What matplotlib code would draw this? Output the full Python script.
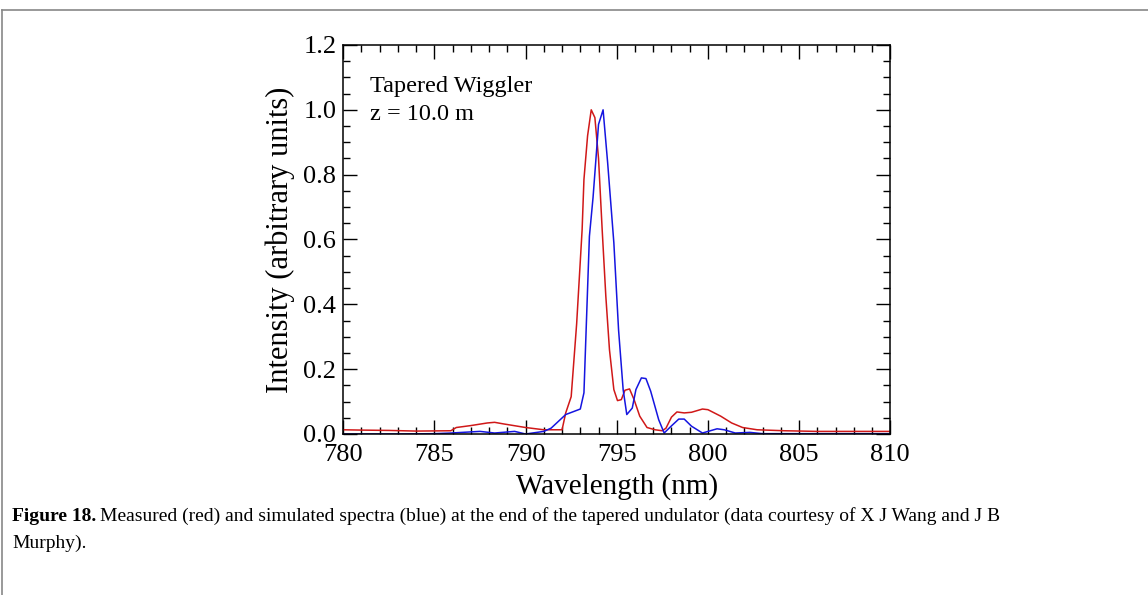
import matplotlib
matplotlib.use("Agg")
import matplotlib.pyplot as plt
from matplotlib.lines import Line2D
from matplotlib.ticker import MultipleLocator

# measured spectrum (red)
wl_meas = [780.0, 781.0, 782.5, 784.0, 785.9, 786.2, 787.0, 787.9, 788.3, 788.8, 790.0,
           791.0, 792.0, 792.2, 792.5, 792.8, 793.1, 793.2, 793.4, 793.6, 793.8, 794.0,
           794.2, 794.4, 794.6, 794.84, 795.04, 795.25, 795.45, 795.7, 795.95, 796.26,
           796.66, 797.1, 797.5, 797.7, 798.0, 798.3, 798.7, 799.1, 799.7, 800.0, 800.7,
           801.3, 801.9, 802.7, 804.2, 806.0, 808.0, 810.0]
int_meas = [0.013, 0.012, 0.011, 0.009, 0.010, 0.020, 0.026, 0.034, 0.036, 0.031, 0.020,
            0.013, 0.013, 0.065, 0.115, 0.34, 0.63, 0.785, 0.92, 1.0, 0.976, 0.85,
            0.63, 0.425, 0.26, 0.137, 0.103, 0.106, 0.135, 0.139, 0.106, 0.055,
            0.020, 0.013, 0.010, 0.018, 0.052, 0.068, 0.065, 0.067, 0.077, 0.075, 0.055,
            0.034, 0.020, 0.013, 0.010, 0.008, 0.008, 0.008]

# simulated spectrum (blue)
wl_sim = [780.0, 783.0, 785.0, 785.9, 787.5, 788.3, 789.4, 790.0, 791.0, 791.4, 792.2,
          793.0, 793.2, 793.5, 793.7, 794.0, 794.25, 794.5, 794.84, 795.1, 795.35, 795.55,
          795.85, 796.05, 796.35, 796.6, 796.86, 797.3, 797.6, 797.98, 798.4, 798.7, 799.1,
          799.7, 800.5, 800.9, 801.5, 802.3, 803.0, 806.0, 810.0]
int_sim = [0.0, 0.0, 0.001, 0.003, 0.008, 0.003, 0.008, 0.0, 0.008, 0.018, 0.06,
           0.077, 0.127, 0.61, 0.73, 0.955, 1.0, 0.837, 0.59, 0.32, 0.137, 0.06,
           0.08, 0.137, 0.173, 0.171, 0.132, 0.044, 0.003, 0.024, 0.046, 0.046, 0.024,
           0.003, 0.016, 0.013, 0.003, 0.005, 0.001, 0.001, 0.001]

plt.rcParams['font.family'] = ['Liberation Serif', 'DejaVu Serif']

fig = plt.figure(figsize=(11.48, 5.95), dpi=100)
ax = fig.add_axes([0.299, 0.2706, 0.4765, 0.6538])

ax.plot(wl_meas, int_meas, color='#d01818', lw=1.1)
ax.plot(wl_sim, int_sim, color='#1515e0', lw=1.1)

ax.set_xlim(780, 810)
ax.set_ylim(0, 1.2)
ax.xaxis.set_major_locator(MultipleLocator(5))
ax.xaxis.set_minor_locator(MultipleLocator(1))
ax.yaxis.set_major_locator(MultipleLocator(0.2))
ax.yaxis.set_minor_locator(MultipleLocator(0.05))
ax.yaxis.set_major_formatter(matplotlib.ticker.FormatStrFormatter('%.1f'))
ax.tick_params(which='both', direction='in', top=True, right=True, labelsize=19, width=1.0)
ax.tick_params(which='major', length=10)
ax.tick_params(axis='x', which='major', pad=7)
ax.tick_params(axis='y', which='major', pad=5)
ax.tick_params(which='minor', length=5)
for s in ax.spines.values():
    s.set_linewidth(1.1)

ax.set_xlabel('Wavelength (nm)', fontsize=21, labelpad=5)
ax.set_ylabel('Intensity (arbitrary units)', fontsize=22, labelpad=6)

ax.text(0.048, 0.92, 'Tapered Wiggler\nz = 10.0 m', transform=ax.transAxes,
        fontsize=17.5, va='top', ha='left', linespacing=1.45)

# caption
fig.canvas.draw()
r = fig.canvas.get_renderer()
cap_size = 14
t1 = fig.text(12 / 1148, 1 - 521 / 595, 'Figure 18.', fontsize=cap_size, fontweight='bold')
bb = t1.get_window_extent(renderer=r)
fig.text((bb.x1 + 4) / 1148, 1 - 521 / 595,
         'Measured (red) and simulated spectra (blue) at the end of the tapered undulator '
         '(data courtesy of X J Wang and J B', fontsize=cap_size)
fig.text(12 / 1148, 1 - 548 / 595, 'Murphy).', fontsize=cap_size)

# page frame
fig.add_artist(Line2D([0.0015, 0.0015], [0, 1 - 10 / 595], transform=fig.transFigure,
                      color='#888888', lw=1.2))
fig.add_artist(Line2D([0.0015, 1], [1 - 10 / 595, 1 - 10 / 595], transform=fig.transFigure,
                      color='#888888', lw=1.2))

fig.savefig('out.png', dpi=100)
